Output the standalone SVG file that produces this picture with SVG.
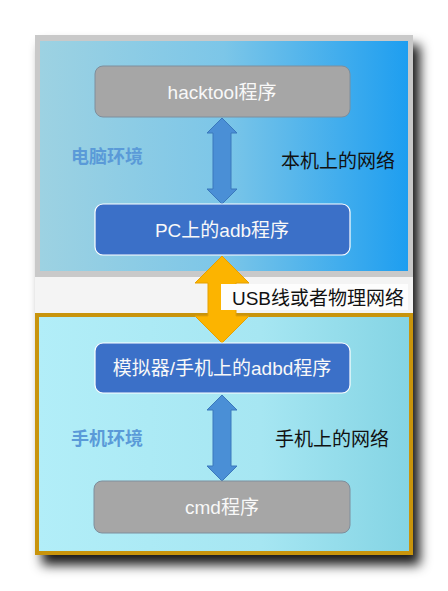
<svg xmlns="http://www.w3.org/2000/svg" width="448" height="591" viewBox="0 0 448 591">
<defs>
<linearGradient id="gTop" x1="0" y1="0" x2="1" y2="0">
<stop offset="0" stop-color="#9dd2e2"/><stop offset="0.5" stop-color="#7cc6e8"/><stop offset="1" stop-color="#1e9ef0"/>
</linearGradient>
<linearGradient id="gBot" x1="0" y1="0" x2="1" y2="0">
<stop offset="0" stop-color="#b2eef8"/><stop offset="0.6" stop-color="#a6e6f2"/><stop offset="1" stop-color="#84d4e4"/>
</linearGradient>
<filter id="sh" x="-10%" y="-10%" width="130%" height="130%">
<feDropShadow dx="7" dy="10" stdDeviation="6" flood-color="#000" flood-opacity="0.9"/>
</filter>
</defs>
<style>
text{font-family:"Liberation Sans","Noto Sans CJK SC",sans-serif;text-anchor:middle;dominant-baseline:central}
.gray{fill:#a6a6a6;stroke:#7e8e9c;stroke-width:1}
.blue{fill:#3b70c8;stroke:#ffffff;stroke-width:1.2}
.wt{fill:#f8f8f8;font-size:19px}
.env{fill:#5a9ad8;font-size:18px;font-weight:bold}
.net{fill:#111;font-size:19px}
.darr{fill:#4a8fd6;stroke:#3a78bc;stroke-width:1}
</style>
<rect width="448" height="591" fill="#ffffff"/>
<g id="card" filter="url(#sh)">
<rect x="35" y="35" width="378" height="520" fill="#f4f4f4"/>
</g>
<g id="pc-env">
<rect x="35" y="35" width="378" height="242" fill="#c9c9c9"/>
<rect x="40" y="41" width="368" height="230" fill="url(#gTop)"/>
</g>
<g id="phone-env">
<rect x="37" y="315" width="374" height="238" fill="url(#gBot)" stroke="#c8940c" stroke-width="4"/>
</g>
<g id="connectors">
<polygon class="darr" points="222,118 237,133 231,133 231,189 237,189 222,204 207,189 213,189 213,133 207,133"/>
<polygon class="darr" points="222,395 237,410 231,410 231,466 237,466 222,481 207,466 213,466 213,410 207,410"/>
<polygon fill="#fcb400" stroke="#e6a000" stroke-width="1" points="222,256 249,283 236,283 236,316 249,316 222,343 195,316 208,316 208,283 195,283"/>
</g>
<g id="usb-label">
<rect x="221" y="284" width="187" height="26" fill="#fdfdfd"/>
<text x="318" y="298" class="net">USB线或者物理网络</text>
</g>
<g id="hacktool">
<rect x="95" y="66" width="255" height="51" rx="8" class="gray"/>
<text x="222" y="92" class="wt">hacktool程序</text>
</g>
<g id="pc-adb">
<rect x="95" y="204" width="255" height="51" rx="8" class="blue"/>
<text x="222" y="230" class="wt">PC上的adb程序</text>
</g>
<g id="adbd">
<rect x="95" y="343" width="255" height="50" rx="8" class="blue"/>
<text x="222" y="368" class="wt">模拟器/手机上的adbd程序</text>
</g>
<g id="cmd">
<rect x="94" y="481" width="256" height="52" rx="8" class="gray"/>
<text x="222" y="507" class="wt">cmd程序</text>
</g>
<g id="labels">
<text x="107" y="157" class="env">电脑环境</text>
<text x="338" y="161" class="net">本机上的网络</text>
<text x="107" y="439" class="env">手机环境</text>
<text x="332" y="439" class="net">手机上的网络</text>
</g>
</svg>
